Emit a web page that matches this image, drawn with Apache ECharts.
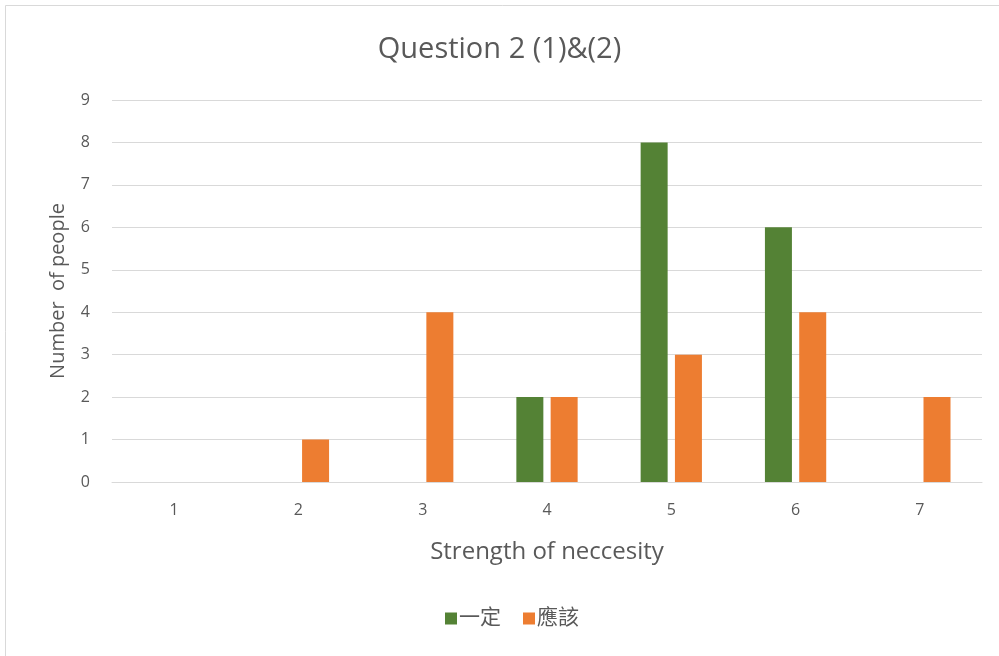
<!DOCTYPE html>
<html>
<head>
<meta charset="utf-8">
<script src="https://cdn.jsdelivr.net/npm/echarts@6/dist/echarts.min.js"></script>
<style>
  html, body { margin: 0; padding: 0; background: #fff; }
  #chart { width: 999px; height: 656px; }
</style>
</head>
<body>
<div id="chart"></div>
<script>
  // 数据
  const categories = ['1', '2', '3', '4', '5', '6', '7'];
  const seriesNames = ['一定', '應該'];
  const yiding = [0, 0, 0, 2, 8, 6, 0];
  const yinggai = [0, 1, 4, 2, 3, 4, 2];
  const colors = ['#548235', '#ED7D31'];

  const textColor = '#595959';
  const font = 'Open Sans, Noto Sans CJK TC, sans-serif';

  const myChart = echarts.init(document.getElementById('chart'));
  const option = {
    backgroundColor: '#fff',
    color: colors,
    title: {
      text: 'Question 2 (1)&(2)',
      left: 'center',
      top: 30,
      textStyle: { fontFamily: font, fontSize: 29, fontWeight: 'normal', color: textColor }
    },
    graphic: [{
      type: 'rect',
      shape: { x: 5.5, y: 5.5, width: 1000, height: 700 },
      style: { fill: 'none', stroke: '#d9d9d9', lineWidth: 1 },
      silent: true
    }],
    legend: {
      bottom: 22,
      left: 440,
      itemWidth: 12,
      itemHeight: 12,
      itemGap: 22,
      icon: 'rect',
      textStyle: { fontFamily: font, fontSize: 21, color: textColor, padding: [0, 0, 0, -3] },
      data: seriesNames
    },
    grid: { left: 112, right: 17, top: 100, bottom: 174, containLabel: false },
    xAxis: {
      type: 'category',
      data: categories,
      name: 'Strength of neccesity',
      nameLocation: 'middle',
      nameGap: 58,
      nameTextStyle: { fontFamily: font, fontSize: 24, color: textColor },
      axisLine: { lineStyle: { color: '#d9d9d9' } },
      axisTick: { show: false },
      axisLabel: { fontFamily: font, fontSize: 16, color: textColor, margin: 20 }
    },
    yAxis: {
      type: 'value',
      min: 0, max: 9, interval: 1,
      name: 'Number  of people',
      nameLocation: 'middle',
      nameGap: 44,
      nameTextStyle: { fontFamily: font, fontSize: 20, color: textColor },
      axisLine: { show: false },
      axisTick: { show: false },
      axisLabel: { fontFamily: font, fontSize: 16, color: textColor, margin: 22 },
      splitLine: { lineStyle: { color: '#d9d9d9', width: 1 } }
    },
    series: [
      { name: seriesNames[0], type: 'bar', data: yiding, barWidth: 27, barGap: '27%' },
      { name: seriesNames[1], type: 'bar', data: yinggai, barWidth: 27, barGap: '27%' }
    ]
  };
  myChart.setOption(option);
</script>
</body>
</html>
